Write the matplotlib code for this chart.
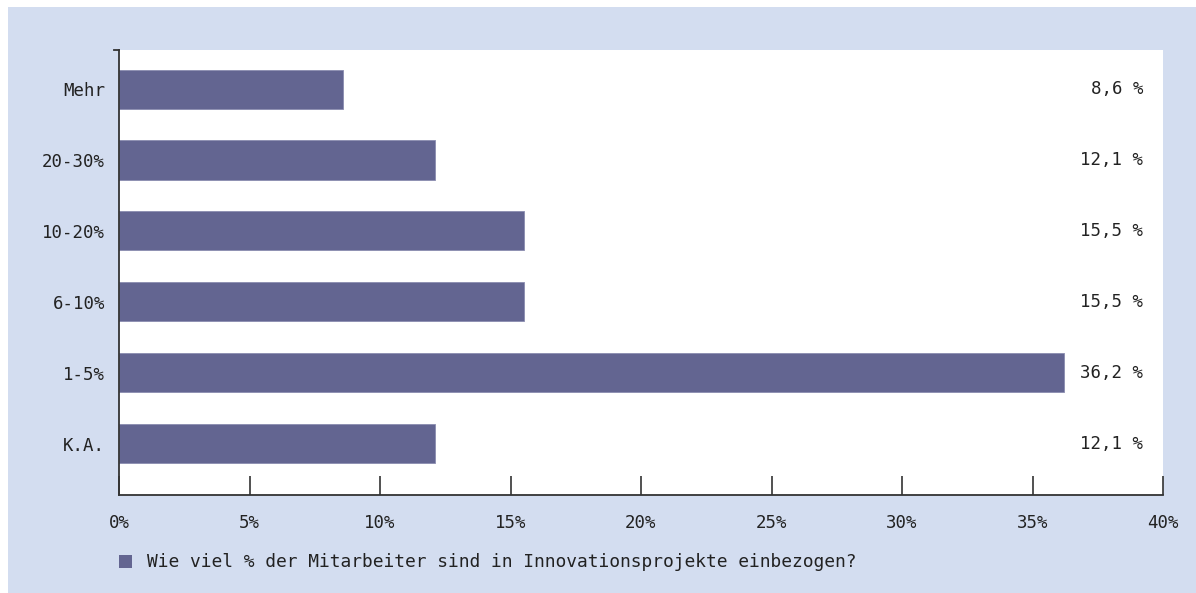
import matplotlib.pyplot as plt
from matplotlib.patches import Rectangle

# data (bottom to top)
categories = ['K.A.', '1-5%', '6-10%', '10-20%', '20-30%', 'Mehr']
values = [12.1, 36.2, 15.5, 15.5, 12.1, 8.6]
value_labels = ['12,1 %', '36,2 %', '15,5 %', '15,5 %', '12,1 %', '8,6 %']
xticks = [0, 5, 10, 15, 20, 25, 30, 35, 40]
xtick_labels = ['0%', '5%', '10%', '15%', '20%', '25%', '30%', '35%', '40%']
legend_text = 'Wie viel % der Mitarbeiter sind in Innovationsprojekte einbezogen?'

bar_color = '#636591'
bg_color = '#d3ddf0'
font = 'DejaVu Sans Mono'
fs = 12.5

fig = plt.figure(figsize=(11.96, 5.93), dpi=100)
fig.patch.set_facecolor('white')
# light blue panel
fig.patches.append(Rectangle((8 / 1196, 0), 1 - 8 / 1196, 1 - 7 / 593,
                             transform=fig.transFigure, facecolor=bg_color,
                             edgecolor='none', zorder=0))

ax = fig.add_axes([119 / 1196, 98 / 593, (1163 - 119) / 1196, (495 - 50) / 593])
ax.set_zorder(2)
ax.set_facecolor('white')

ypos = list(range(len(categories)))
ax.barh(ypos, values, height=0.55, color=bar_color, edgecolor='#8a8cb0', linewidth=0.6, zorder=2)

for y, lab in zip(ypos, value_labels):
    ax.text(39.25, y, lab, ha='right', va='center', fontsize=fs, family=font, color='#222222')

ax.set_xlim(0, 40)
ax.set_ylim(-0.72, 5.55)
ax.set_xticks(xticks)
ax.set_xticklabels(xtick_labels, fontsize=fs, family=font, color='#222222')
ax.set_yticks(ypos)
ax.set_yticklabels(categories, fontsize=fs, family=font, color='#222222')

ax.tick_params(axis='x', direction='in', length=14, width=1.2, pad=14, color='#333333')
ax.tick_params(axis='y', length=0, pad=10)

for s in ['top', 'right']:
    ax.spines[s].set_visible(False)
for s in ['left', 'bottom']:
    ax.spines[s].set_linewidth(1.3)
    ax.spines[s].set_color('#333333')

# small tick at top of y axis
ax.plot([-0.2, 0], [5.55, 5.55], color='#333333', lw=1.3, clip_on=False)

# legend
leg_box = Rectangle((119 / 1196, 1 - 568 / 593), 13 / 1196, 13 / 593,
                    transform=fig.transFigure, facecolor=bar_color, edgecolor='none', zorder=3)
fig.patches.append(leg_box)
fig.text(147 / 1196, 1 - 562 / 593, legend_text, ha='left', va='center',
         fontsize=12.9, family=font, color='#222222', zorder=3)

fig.savefig('out.png', dpi=100)
